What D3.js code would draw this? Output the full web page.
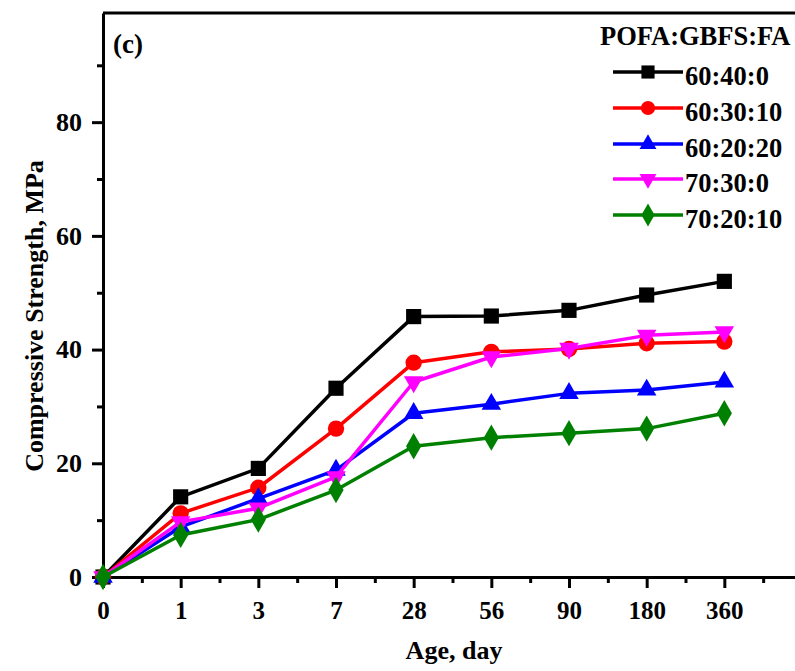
<!DOCTYPE html>
<html>
<head>
<meta charset="utf-8">
<script src="https://cdn.jsdelivr.net/npm/d3@7"></script>
<style>
  html, body { margin: 0; padding: 0; background: #fff; }
  svg { display: block; }
  text { font-family: "Liberation Serif", "Times New Roman", serif; font-weight: bold; fill: #000; }
</style>
</head>
<body>
<svg id="chart" width="795" height="671"></svg>
<script>
// Curing ages (categorical positions on the x axis)
const ages = ["0", "1", "3", "7", "28", "56", "90", "180", "360"];

// Compressive strength (MPa) per mix, POFA:GBFS:FA
const mix604000 = [0, 14.1, 19.1, 33.2, 45.8, 45.9, 46.9, 49.6, 52.0];
const mix603010 = [0, 11.2, 15.7, 26.1, 37.7, 39.6, 40.1, 41.1, 41.4];
const mix602020 = [0, 8.8, 13.8, 18.8, 28.8, 30.4, 32.3, 32.9, 34.3];
const mix703000 = [0, 9.7, 12.1, 17.6, 34.3, 38.7, 40.2, 42.5, 43.1];
const mix702010 = [0, 7.4, 10.1, 15.3, 23.0, 24.5, 25.3, 26.1, 28.8];

const seriesNames = ["60:40:0", "60:30:10", "60:20:20", "70:30:0", "70:20:10"];
const seriesValues = [mix604000, mix603010, mix602020, mix703000, mix702010];
const seriesColors = ["#000000", "#ff0000", "#0000ff", "#ff00ff", "#008000"];
const seriesSymbols = ["square", "circle", "triangle", "triangleDown", "diamond"];

const yMajorTicks = [0, 20, 40, 60, 80];
const yMinorTicks = [10, 30, 50, 70, 90];
const legendTitle = "POFA:GBFS:FA";

const svg = d3.select("#chart");

const plotLeft = 103, plotBottom = 577, plotTop = 13, plotRight = 802;
const x = d3.scaleLinear().domain([0, 9]).range([plotLeft, plotRight]);
const y = d3.scaleLinear().domain([0, 99.2]).range([plotBottom, plotTop]);

// Downward triangle symbol
const symbolTriangleDown = {
  draw(ctx, size) {
    const s = Math.sqrt(size / (Math.sqrt(3) / 4));
    const h = s * Math.sqrt(3) / 2;
    ctx.moveTo(0, h * 2 / 3);
    ctx.lineTo(-s / 2, -h / 3);
    ctx.lineTo(s / 2, -h / 3);
    ctx.closePath();
  }
};
const symbolTypes = {
  square: d3.symbolSquare, circle: d3.symbolCircle, triangle: d3.symbolTriangle,
  triangleDown: symbolTriangleDown, diamond: d3.symbolDiamond
};
const symbolSizes = { square: 230, circle: 210, triangle: 165, triangleDown: 165, diamond: 200 };
function marker(name, scale) {
  return d3.symbol().type(symbolTypes[name]).size(symbolSizes[name] * scale)();
}

// Frame: top and right borders
svg.append("line").attr("x1", plotLeft).attr("x2", plotRight).attr("y1", plotTop).attr("y2", plotTop)
  .attr("stroke", "#000").attr("stroke-width", 3);
svg.append("line").attr("x1", plotRight).attr("x2", plotRight).attr("y1", plotTop).attr("y2", plotBottom)
  .attr("stroke", "#000").attr("stroke-width", 3);

// Minor ticks
svg.append("g").attr("transform", `translate(0,${plotBottom})`)
  .call(d3.axisBottom(x).tickValues(d3.range(0.5, 9, 1)).tickSize(6).tickFormat(""))
  .call(g => g.select(".domain").remove())
  .call(g => g.selectAll("line").attr("stroke-width", 3));
svg.append("g").attr("transform", `translate(${plotLeft},0)`)
  .call(d3.axisLeft(y).tickValues(yMinorTicks).tickSize(6).tickFormat(""))
  .call(g => g.select(".domain").remove())
  .call(g => g.selectAll("line").attr("stroke-width", 3));

// Major axes
const xAxis = svg.append("g").attr("transform", `translate(0,${plotBottom})`)
  .call(d3.axisBottom(x).tickValues(d3.range(ages.length)).tickSize(11).tickSizeOuter(0)
    .tickPadding(13).tickFormat(i => ages[i]));
xAxis.select(".domain").attr("stroke-width", 3);
xAxis.selectAll("line").attr("stroke-width", 3);
xAxis.selectAll("text").style("font-size", "25px");

const yAxis = svg.append("g").attr("transform", `translate(${plotLeft},0)`)
  .call(d3.axisLeft(y).tickValues(yMajorTicks).tickSize(11).tickSizeOuter(0).tickPadding(10));
yAxis.select(".domain").attr("stroke-width", 3);
yAxis.selectAll("line").attr("stroke-width", 3);
yAxis.selectAll("text").style("font-size", "26px");

// Axis titles
svg.append("text").attr("x", 454).attr("y", 659).attr("text-anchor", "middle")
  .style("font-size", "26px").text("Age, day");
svg.append("text").attr("transform", "translate(43,316) rotate(-90)").attr("text-anchor", "middle")
  .style("font-size", "26px").text("Compressive Strength, MPa");

// Panel label
svg.append("text").attr("x", 113).attr("y", 53).style("font-size", "27px").text("(c)");

// Series lines and markers
const line = d3.line().x((d, i) => x(i)).y(d => y(d));
seriesValues.forEach((vals, k) => {
  const g = svg.append("g");
  g.append("path").datum(vals).attr("d", line)
    .attr("fill", "none").attr("stroke", seriesColors[k]).attr("stroke-width", 3.5)
    .attr("stroke-linejoin", "round");
  g.selectAll("path.m").data(vals).join("path").attr("class", "m")
    .attr("transform", (d, i) => `translate(${x(i)},${y(d)})`)
    .attr("d", marker(seriesSymbols[k], 1))
    .attr("fill", seriesColors[k]);
});

// Legend
const legend = svg.append("g");
legend.append("text").attr("x", 600).attr("y", 45).style("font-size", "26.5px").text(legendTitle);
const rowY = [72, 108, 144, 179, 215];
seriesNames.forEach((name, k) => {
  const ry = rowY[k];
  legend.append("line").attr("x1", 613).attr("x2", 683).attr("y1", ry).attr("y2", ry)
    .attr("stroke", seriesColors[k]).attr("stroke-width", 3.5);
  legend.append("path").attr("transform", `translate(648,${ry})`)
    .attr("d", marker(seriesSymbols[k], 0.75))
    .attr("fill", seriesColors[k]);
  legend.append("text").attr("x", 685).attr("y", ry + 13).style("font-size", "26.5px").text(name);
});
</script>
</body>
</html>
